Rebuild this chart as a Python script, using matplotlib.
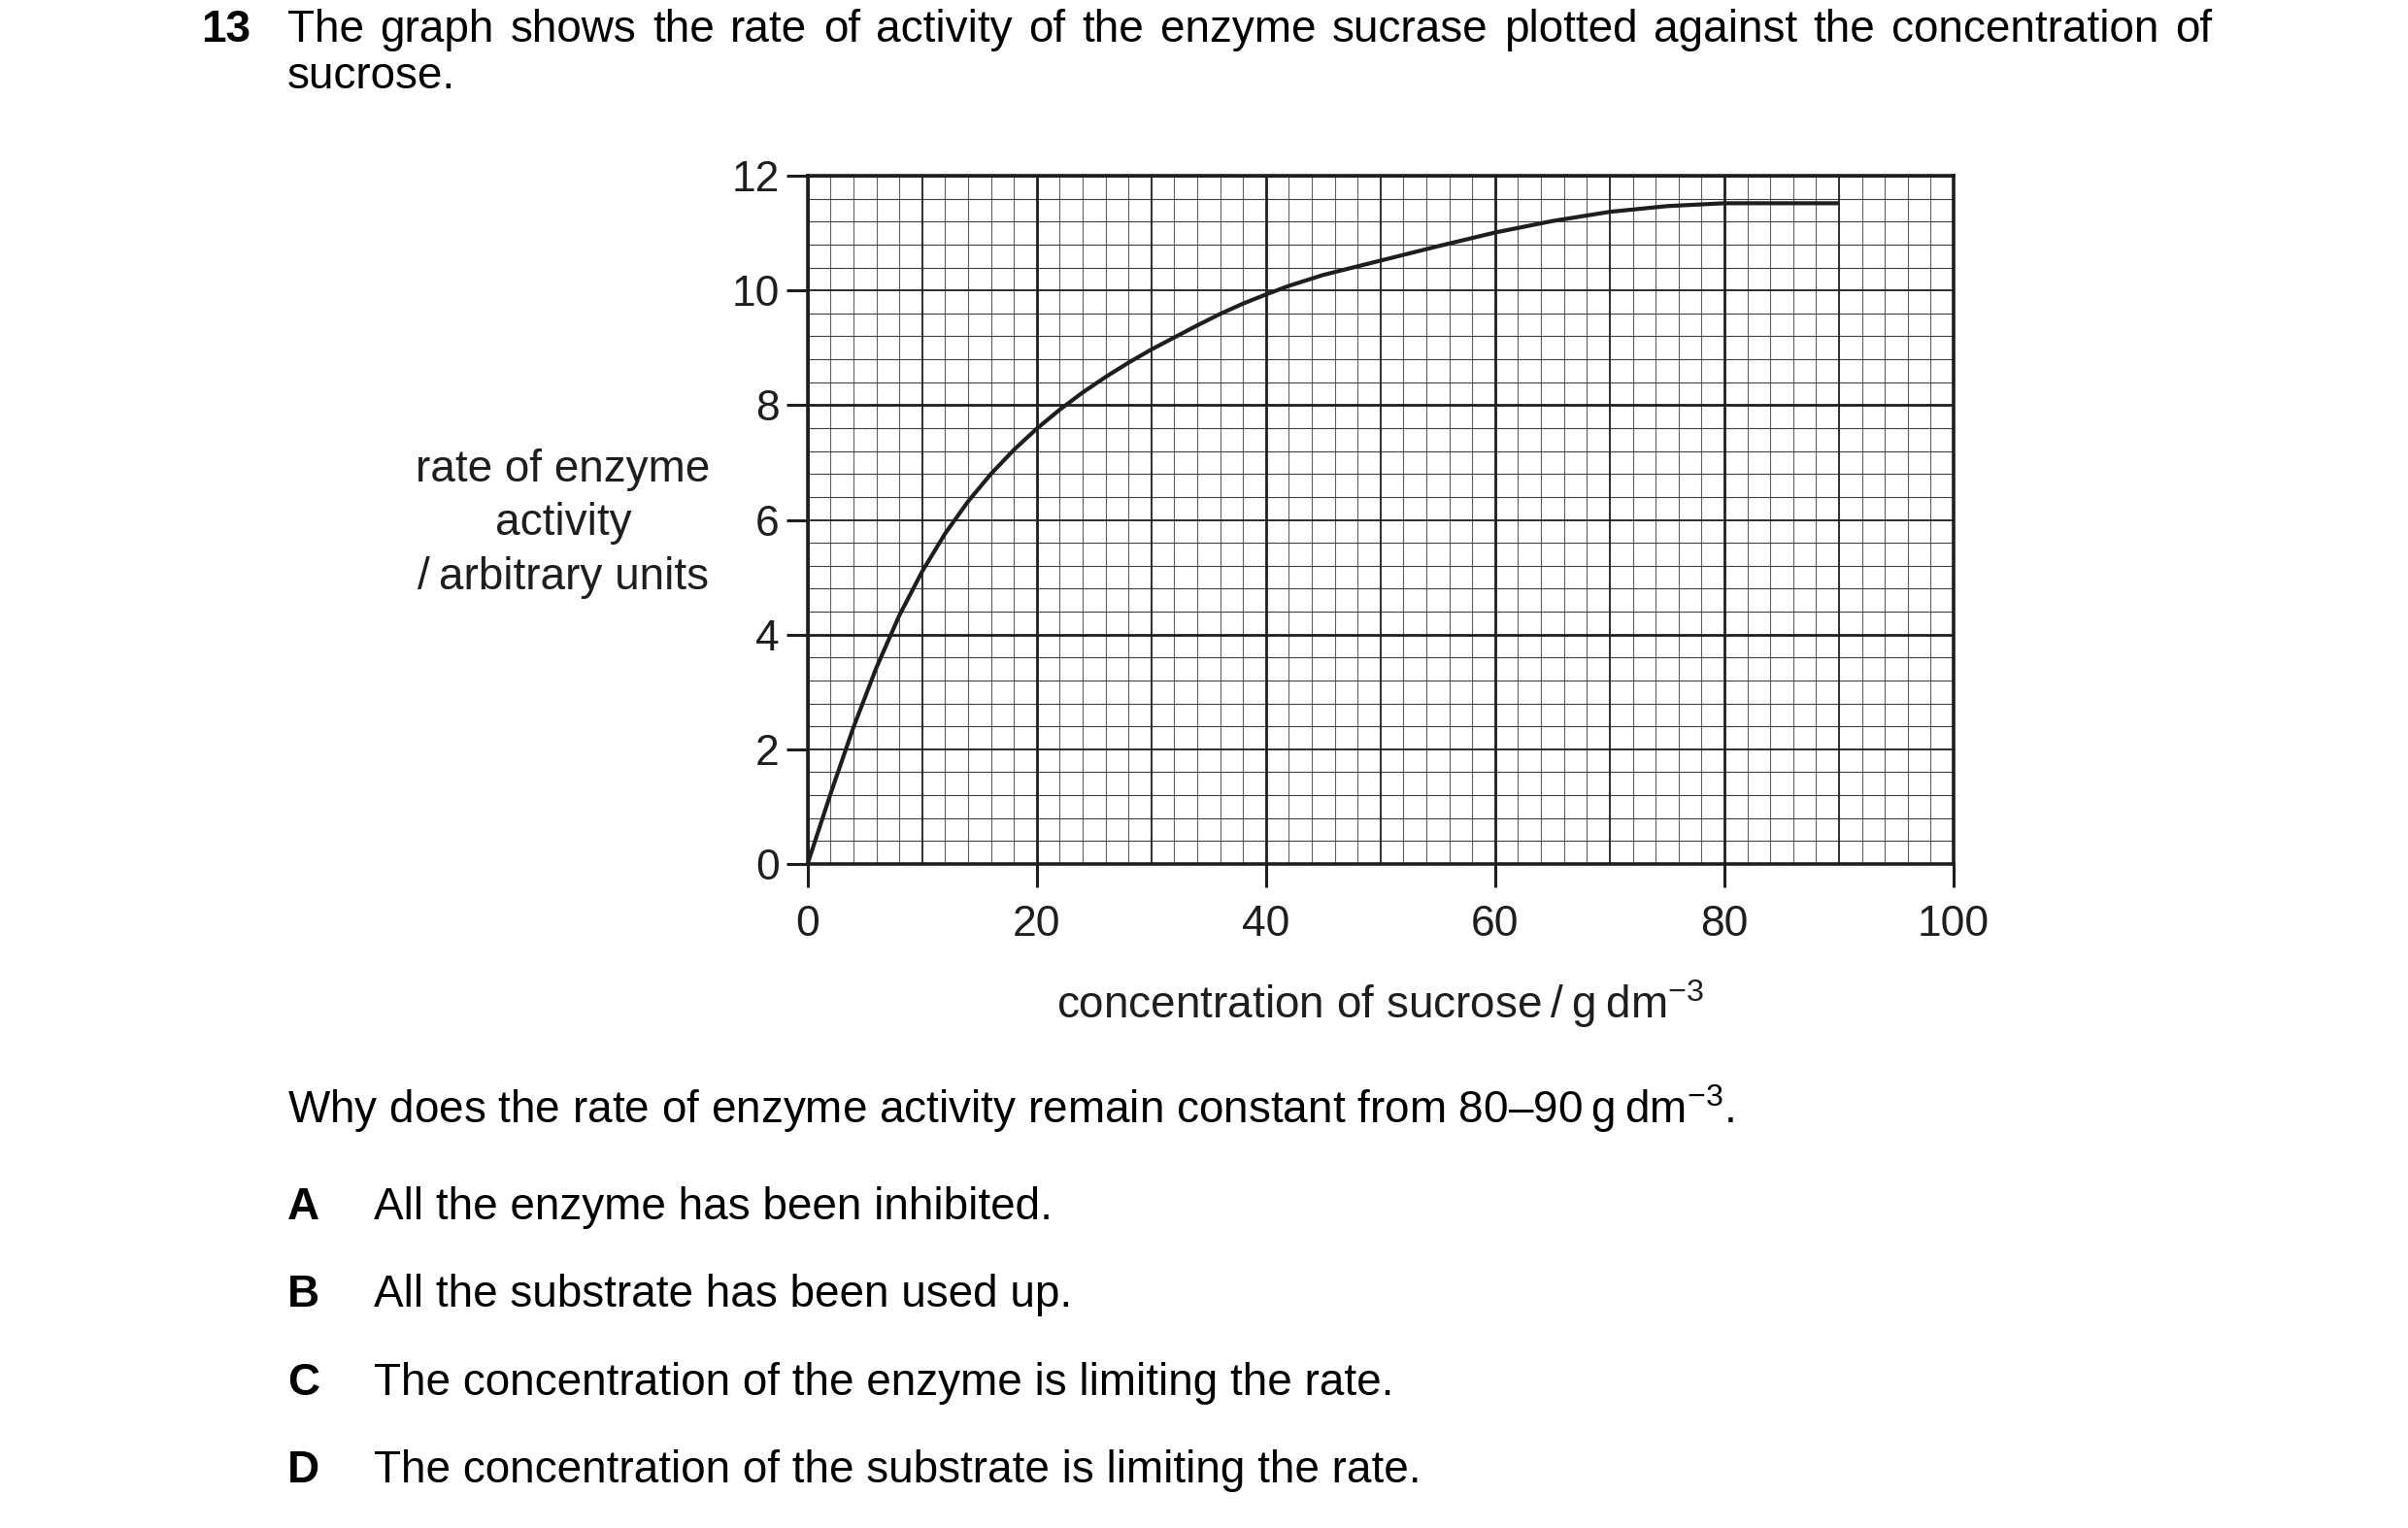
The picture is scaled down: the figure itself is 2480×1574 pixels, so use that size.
import numpy as np
import matplotlib
matplotlib.use('Agg')
import matplotlib.pyplot as plt

plt.rcParams['font.family'] = ['Liberation Sans', 'DejaVu Sans']
plt.rcParams['mathtext.fontset'] = 'custom'
plt.rcParams['mathtext.rm'] = 'Liberation Sans'
plt.rcParams['mathtext.default'] = 'regular'

# values
conc = [0, 2, 4, 6, 8, 10, 12, 14, 16, 18, 20, 22, 24, 26, 28, 30, 32, 34,
        36, 38, 40, 42, 45, 50, 55, 60, 65, 70, 75, 80, 90]
rate = [0, 1.22, 2.38, 3.42, 4.33, 5.10, 5.76, 6.32, 6.80, 7.22, 7.59, 7.92,
        8.22, 8.49, 8.74, 8.97, 9.18, 9.39, 9.59, 9.77, 9.93, 10.08, 10.27,
        10.52, 10.77, 11.01, 11.21, 11.37, 11.47, 11.52, 11.52]

x_ticks = [0, 20, 40, 60, 80, 100]
y_ticks = [0, 2, 4, 6, 8, 10, 12]

header_1 = 'The graph shows the rate of activity of the enzyme sucrase plotted against the concentration of'
header_2 = 'sucrose.'
question = 'Why does the rate of enzyme activity remain constant from 80\u201390\u2009g\u2009dm$^{\u22123}$.'
options = ['A', 'B', 'C', 'D']
answers = ['All the enzyme has been inhibited.',
           'All the substrate has been used up.',
           'The concentration of the enzyme is limiting the rate.',
           'The concentration of the substrate is limiting the rate.']

W, H = 2480, 1574
ink = '#1e1e1e'
fs = 33

fig = plt.figure(figsize=(W / 100, H / 100), dpi=100)
ax = fig.add_axes([831.7 / W, 1 - 890 / H, (2012 - 831.7) / W, (890 - 181) / H])


def px(x, y):
    return x / W, 1 - y / H


# graph paper
for v in np.arange(0, 101, 2):
    if v % 20 == 0:
        ax.axvline(v, color=ink, lw=2.0, zorder=2)
    elif v % 10 == 0:
        ax.axvline(v, color=ink, lw=1.3, zorder=1.5)
    else:
        ax.axvline(v, color='#606060', lw=0.8, zorder=1)
for i in range(31):
    v = i * 0.4
    if i % 10 == 0:
        ax.axhline(v, color=ink, lw=2.0, zorder=2)
    elif i % 5 == 0:
        ax.axhline(v, color=ink, lw=1.3, zorder=1.5)
    else:
        ax.axhline(v, color='#404040', lw=0.8, zorder=1)

ax.plot(conc, rate, color=ink, lw=3.0, solid_capstyle='butt',
        solid_joinstyle='round', zorder=3)

ax.set_xlim(0, 100)
ax.set_ylim(0, 12)
ax.set_xticks(x_ticks)
ax.set_yticks(y_ticks)
ax.tick_params(axis='x', direction='out', length=17, width=2.2, pad=13,
               labelsize=32, colors=ink)
ax.tick_params(axis='y', direction='out', length=16, width=2.2, pad=5,
               labelsize=32, colors=ink)
for s in ax.spines.values():
    s.set_linewidth(2.6)
    s.set_color(ink)
    s.set_zorder(4)

# axis titles
ylab = ['rate of enzyme', 'activity', '/\u2009arbitrary units']
for k, line in enumerate(ylab):
    fig.text(*px(580, 496 + k * 55.5), line, fontsize=fs, ha='center',
             va='baseline', color=ink)
fig.text(*px(1422, 1049), 'concentration of sucrose\u2009/\u2009g\u2009dm$^{\u22123}$',
         fontsize=fs, ha='center', va='baseline', color=ink)

# question text, first line justified between 296 and 2278 px
fig.text(*px(207, 43), '13', fontsize=fs, fontweight='bold', va='baseline', color='black')
renderer = fig.canvas.get_renderer()
words = header_1.split()
items = [fig.text(*px(296, 43), w, fontsize=fs, va='baseline', color='black')
         for w in words]
widths = [t.get_window_extent(renderer).width for t in items]
gap = (2278 - 296 - sum(widths)) / (len(words) - 1)
xpos = 296
for t, w in zip(items, widths):
    t.set_position(px(xpos, 43))
    xpos += w + gap

fig.text(*px(296, 91), header_2, fontsize=fs, va='baseline', color='black')
fig.text(*px(296, 1157), question, fontsize=fs, va='baseline', color='black')
for k, (o, a) in enumerate(zip(options, answers)):
    yb = 1256 + k * 90.4
    fig.text(*px(296, yb), o, fontsize=fs, fontweight='bold', va='baseline', color='black')
    fig.text(*px(385, yb), a, fontsize=fs, va='baseline', color='black')

fig.savefig('out.png', dpi=100, facecolor='white')
